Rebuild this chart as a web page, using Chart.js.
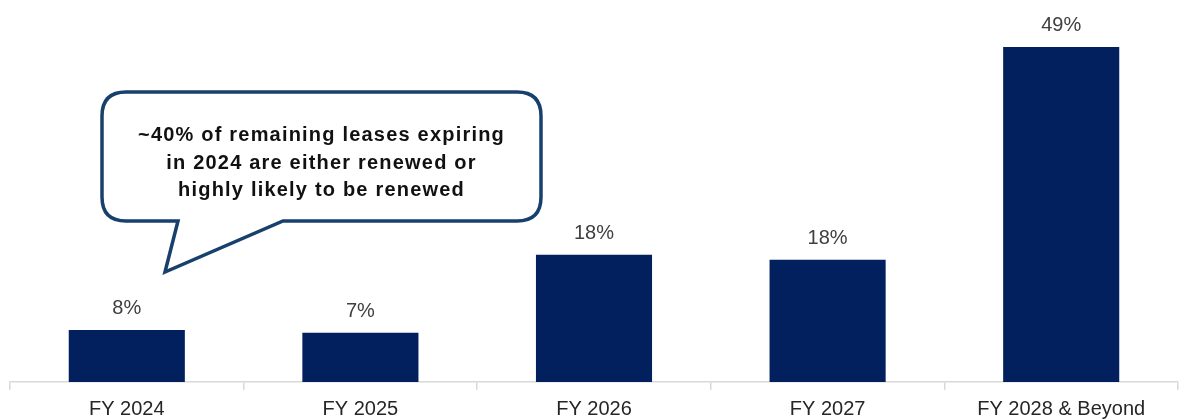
<!DOCTYPE html>
<html>
<head>
<meta charset="utf-8">
<script src="https://cdn.jsdelivr.net/npm/chart.js@4.4.1/dist/chart.umd.min.js"></script>
<style>
  html, body { margin: 0; padding: 0; background: #ffffff; }
  #wrap { width: 1179px; height: 419px; position: relative; }
</style>
</head>
<body>
<div id="wrap"><canvas id="c" width="1179" height="419"></canvas></div>
<script>
const categories = ['FY 2024', 'FY 2025', 'FY 2026', 'FY 2027', 'FY 2028 & Beyond'];
const shareValues = [7.6, 7.2, 18.6, 17.9, 49.0];
const valueLabels = ['8%', '7%', '18%', '18%', '49%'];
const calloutLines = ['~40% of remaining leases expiring', 'in 2024 are either renewed or', 'highly likely to be renewed'];

const barLabelPlugin = {
  id: 'barLabels',
  afterDatasetsDraw(chart) {
    const ctx = chart.ctx;
    const meta = chart.getDatasetMeta(0);
    ctx.save();
    ctx.font = '20px "Liberation Sans", Arial, sans-serif';
    ctx.fillStyle = '#404040';
    ctx.textAlign = 'center';
    ctx.textBaseline = 'alphabetic';
    meta.data.forEach((bar, i) => {
      ctx.fillText(valueLabels[i], bar.x, bar.y - 16);
    });
    ctx.restore();
  }
};

const calloutPlugin = {
  id: 'callout',
  afterDraw(chart) {
    const ctx = chart.ctx;
    const L = 102, T = 92, R = 541, B = 221, r = 24;
    const t1 = 178, t2 = 283, tipX = 165, tipY = 272;
    ctx.save();
    ctx.beginPath();
    ctx.moveTo(L + r, T);
    ctx.lineTo(R - r, T);
    ctx.quadraticCurveTo(R, T, R, T + r);
    ctx.lineTo(R, B - r);
    ctx.quadraticCurveTo(R, B, R - r, B);
    ctx.lineTo(t2, B);
    ctx.lineTo(tipX, tipY);
    ctx.lineTo(t1, B);
    ctx.lineTo(L + r, B);
    ctx.quadraticCurveTo(L, B, L, B - r);
    ctx.lineTo(L, T + r);
    ctx.quadraticCurveTo(L, T, L + r, T);
    ctx.closePath();
    ctx.fillStyle = '#ffffff';
    ctx.fill();
    ctx.lineWidth = 3.5;
    ctx.lineJoin = 'miter';
    ctx.strokeStyle = '#17406d';
    ctx.stroke();
    ctx.font = 'bold 20px "Liberation Sans", Arial, sans-serif';
    ctx.letterSpacing = '1.2px';
    ctx.fillStyle = '#111111';
    ctx.textAlign = 'center';
    ctx.textBaseline = 'alphabetic';
    const cx = (L + R) / 2;
    calloutLines.forEach((line, i) => {
      ctx.fillText(line, cx, 141 + i * 27.5);
    });
    ctx.restore();
  }
};

new Chart(document.getElementById('c'), {
  type: 'bar',
  data: {
    labels: categories,
    datasets: [{
      data: shareValues,
      backgroundColor: '#02205e',
      borderWidth: 0,
      categoryPercentage: 1.0,
      barPercentage: 0.497
    }]
  },
  options: {
    responsive: false,
    animation: false,
    devicePixelRatio: 1,
    layout: { padding: { left: 10, right: 1, top: 6, bottom: -9 } },
    plugins: { legend: { display: false }, tooltip: { enabled: false } },
    scales: {
      y: { display: false, min: 0, max: 55 },
      x: {
        offset: true,
        grid: {
          offset: true,
          drawOnChartArea: false,
          drawTicks: true,
          tickLength: 8,
          color: '#d9d9d9',
          lineWidth: 1.5
        },
        border: { display: true, color: '#d9d9d9', width: 1.5 },
        ticks: {
          color: '#262626',
          font: { family: '"Liberation Sans", Arial, sans-serif', size: 20 },
          padding: 7,
          maxRotation: 0,
          autoSkip: false
        }
      }
    }
  },
  plugins: [barLabelPlugin, calloutPlugin]
});
</script>
</body>
</html>
